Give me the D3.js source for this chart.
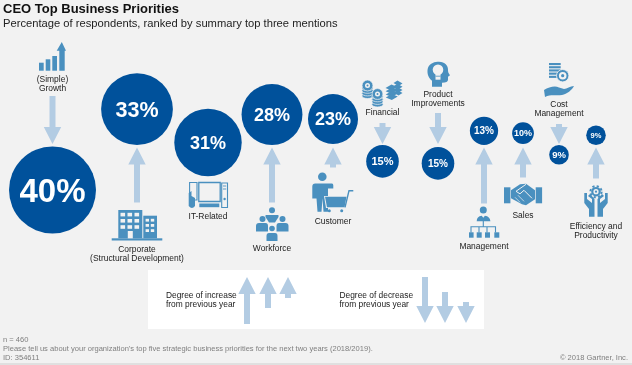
<!DOCTYPE html>
<html>
<head>
<meta charset="utf-8">
<script src="https://cdn.jsdelivr.net/npm/d3@7"></script>
<style>
html,body{margin:0;padding:0;background:#f2f2f2;overflow:hidden}
svg{display:block;font-family:"Liberation Sans",Arial,sans-serif;filter:blur(0.3px)}
</style>
</head>
<body>
<div id="chart"></div>
<script>
// ---- data ----
const categories = ["Growth","Corporate","IT-Related","Workforce","Customer","Financial","Product Improvements","Management","Sales","Cost Management","Efficiency and Productivity"];
const valueLabels = [40,33,31,28,23,15,15,13,10,9,9];
// signed change from previous year (relative arrow length, 0 = no arrow)
const changes = [-48,55,0,55,20,-21,-31,56,30,-20,31];
const labelLines = [["(Simple)","Growth"],["Corporate","(Structural Development)"],["IT-Related"],["Workforce"],["Customer"],["Financial"],["Product","Improvements"],["Management"],["Sales"],["Cost","Management"],["Efficiency and","Productivity"]];
const legendIncrease = [47,31,21];
const legendDecrease = [46,31,21];

// ---- layout ----
const W = 632, H = 365;
const xRange = [52.5,137,208,272,333,382.5,438,484,523,559,596];
const circleNudge = [0,1,0,1,0,-1.5,0.5,1,0,-1.5,1];
const valueFont = [33,21.5,18,18,18,11,10,10,9,9.5,7.5];
const labelY = [82,252,219,251,224,114.5,97,249,217.5,107,228.5];
const baseline = 145;
const BLUE = "#00519b", ARROW = "#b3cce3", ICON = "#4a90bf", BG = "#f2f2f2", GREY = "#7f7f7f";

const x = d3.scaleOrdinal().domain(categories).range(xRange);
const r = d3.scaleLinear().domain([0,40]).range([0,43.5]);
const len = d3.scaleLinear().domain([0,60]).range([0,60]);

const svg = d3.select("#chart").append("svg").attr("width",W).attr("height",H);
svg.append("rect").attr("width",W).attr("height",H).attr("fill",BG);
svg.append("rect").attr("y",363).attr("width",W).attr("height",2).attr("fill","#e0e0e0");

svg.append("text").attr("x",3).attr("y",12.5).attr("font-size",13).attr("font-weight","bold").attr("fill","#111").text("CEO Top Business Priorities");
svg.append("text").attr("x",3).attr("y",27).attr("font-size",11.2).attr("fill","#222").text("Percentage of respondents, ranked by summary top three mentions");

// arrow: tip at (cx,tipY), running dir (+1 tail below the tip, -1 tail above)
function arrowD(cx,tipY,length,dir){
  const hw=8.7, sw=3, hh=Math.min(17,length-3);
  const p=d3.path();
  p.moveTo(cx,tipY);
  p.lineTo(cx+hw,tipY+dir*hh);
  p.lineTo(cx+sw,tipY+dir*hh);
  p.lineTo(cx+sw,tipY+dir*length);
  p.lineTo(cx-sw,tipY+dir*length);
  p.lineTo(cx-sw,tipY+dir*hh);
  p.lineTo(cx-hw,tipY+dir*hh);
  p.closePath();
  return p.toString();
}

const rows = categories.map((c,i)=>({c,i,v:valueLabels[i],ch:changes[i],lines:labelLines[i]}));

svg.append("g").selectAll("path").data(rows.filter(d=>d.ch!==0)).join("path")
  .attr("fill",ARROW)
  .attr("d",d=> d.ch>0 ? arrowD(x(d.c),baseline+2.5,len(d.ch),1) : arrowD(x(d.c),baseline-1,len(-d.ch),-1));

const cy = d => (d.ch>0 ? baseline-1-r(d.v) : d.ch<0 ? baseline+1.5+r(d.v) : baseline-2.5) + circleNudge[d.i];
svg.append("g").selectAll("circle").data(rows).join("circle")
  .attr("cx",d=>x(d.c)).attr("cy",cy).attr("r",d=>r(d.v)).attr("fill",BLUE);
svg.append("g").selectAll("text").data(rows).join("text")
  .attr("x",d=>x(d.c)).attr("y",d=>cy(d)+valueFont[d.i]*0.36)
  .attr("text-anchor","middle").attr("font-weight","bold").attr("fill","#fff")
  .attr("font-size",d=>valueFont[d.i]).text(d=>d.v+"%");

const lab = svg.append("g").attr("font-size",8.45).attr("fill","#222").attr("text-anchor","middle");
rows.forEach(d=>d.lines.forEach((t,k)=>{
  lab.append("text").attr("x",x(d.c)).attr("y",labelY[d.i]+k*9.2).text(t);
}));

// ---- legend ----
svg.append("rect").attr("x",148).attr("y",270).attr("width",336).attr("height",59).attr("fill","#fff");
const legendIncX=[247,268,288], legendDecX=[425,445,466];
svg.append("g").selectAll("path").data(legendIncrease).join("path").attr("fill",ARROW)
  .attr("d",(d,i)=>arrowD(legendIncX[i],277,len(d),1));
svg.append("g").selectAll("path").data(legendDecrease).join("path").attr("fill",ARROW)
  .attr("d",(d,i)=>arrowD(legendDecX[i],323,len(d),-1));
const lt = svg.append("g").attr("font-size",8.4).attr("fill","#222");
[["Degree of increase","from previous year",166],["Degree of decrease","from previous year",339.5]].forEach(a=>{
  lt.append("text").attr("x",a[2]).attr("y",298).text(a[0]);
  lt.append("text").attr("x",a[2]).attr("y",307.3).text(a[1]);
});

// ---- footnotes ----
const fn = svg.append("g").attr("font-size",7.55).attr("fill",GREY);
fn.append("text").attr("x",3).attr("y",341.5).text("n = 460");
fn.append("text").attr("x",3).attr("y",350.5).text("Please tell us about your organization's top five strategic business priorities for the next two years (2018/2019).");
fn.append("text").attr("x",3).attr("y",359.5).text("ID: 354611");
fn.append("text").attr("x",628).attr("y",359.5).attr("text-anchor","end").text("© 2018 Gartner, Inc.");

// ---- icons ----
function icon(cat,top){ return svg.append("g").attr("transform",`translate(${x(cat)},${top})`); }
const R=(g,a,b,w,h,f=ICON)=>g.append("rect").attr("x",a).attr("y",b).attr("width",w).attr("height",h).attr("fill",f);
const C=(g,a,b,rad,f=ICON)=>g.append("circle").attr("cx",a).attr("cy",b).attr("r",rad).attr("fill",f);
const P=(g,d,f=ICON)=>g.append("path").attr("d",d).attr("fill",f);
const L=(g,d,w=1,c=ICON)=>g.append("path").attr("d",d).attr("fill","none").attr("stroke",c).attr("stroke-width",w);

// growth
{ const g=icon("Growth",42);
  R(g,-13.5,20.7,4.7,8); R(g,-6.8,17.3,4.6,11.4); R(g,-0.2,14,4.7,14.7);
  P(g,"M9.3,0 L13.5,8.7 L12.2,8.7 L12.2,28.7 L6.8,28.7 L6.8,8.7 L4.2,8.7 Z"); }
// corporate
{ const g=icon("Corporate",210);
  R(g,-18.7,0,24,28.3); R(g,6.3,5.7,13.7,22.6);
  R(g,-25.3,28.3,50.6,2.2);
  for(let a=0;a<3;a++)for(let b=0;b<3;b++) R(g,-16.5+a*7,2.8+b*6.2,4.6,3.6,BG);
  for(let a=0;a<2;a++)for(let b=0;b<3;b++) R(g,8.6+a*5.2,8.8+b*5.2,3.4,2.8,BG);
  R(g,-9.2,21,5,7.3,BG); }
// IT
{ const g=icon("IT-Related",181);
  L(g,"M-9.2,1.5 h21.4 v19 h-21.4 Z",1.3);
  R(g,-8.7,22.5,20,3.7);
  L(g,"M-18.4,1.5 h7.4 v17.5 h-7.4 Z",1.1);
  P(g,"M-19.3,12 L-16.5,10 L-16.5,15 L-13,17 L-13,25 Q-16,29 -19.3,25 Z");
  L(g,"M13.7,2 h5.8 v24.5 h-5.8 Z",1.1);
  L(g,"M15,5 h3.2 M15,8 h3.2",.9); C(g,16.6,18,1.2); }
// workforce
{ const g=icon("Workforce",207);
  C(g,0,3.3,3); P(g,"M-6,8 h12 q1,0 0.5,2 L3,15.5 h-6 L-6.5,10 q-0.5,-2 0.5,-2 Z");
  C(g,-9.5,12,3); P(g,"M-16,19 q0,-3 3,-3 h6.5 q2.5,0 2.5,3 v5.5 h-12 Z");
  C(g,10.5,12,3); P(g,"M4.5,19 q0,-3 2.5,-3 h6.5 q3,0 3,3 v5.5 h-12 Z");
  C(g,0,21.5,2.8); P(g,"M-5.5,29 q0,-3 2.5,-3 h6 q2.5,0 2.5,3 v5 h-11 Z"); }
// customer
{ const g=icon("Customer",172.4);
  C(g,-10.7,4.3,4.3);
  P(g,"M-20.7,14 Q-20.7,11 -17.7,11 L-1,11 Q0.3,11 0.3,13 L0.3,16 L-5,16 L-5,39.3 L-9.5,39.3 L-10.5,26 L-11.5,39.3 L-15.5,39.3 L-16.5,26 L-20.7,26 Z");
  P(g,"M-9,23.5 L13.8,23.5 L11.8,35.5 L-7,35.5 Z",BG);
  P(g,"M-8,24.3 L13.5,24.3 L11.5,34.9 L-6,34.9 Z");
  L(g,"M20.3,18.3 L16,18.3 L12,35",1.4);
  C(g,-3.7,38.3,1.5); C(g,8.7,38.3,1.5); }
// financial
{ const g=icon("Financial",80);
  const coins=(cx,top,n)=>{
    for(let k=n;k>=1;k--) g.append("ellipse").attr("cx",cx).attr("cy",top+4+k*2.6).attr("rx",5.6).attr("ry",2.6).attr("fill",ICON).attr("stroke",BG).attr("stroke-width",.7);
    C(g,cx,top+4,5.4).attr("stroke",BG).attr("stroke-width",.6);
    C(g,cx,top+4,2.5,BG); C(g,cx,top+4,1,ICON);
  };
  coins(-15,1.5,4); coins(-5,10,4);
  [0,1,2,3].forEach(k=>{
    P(g,`M${3+k*0.1},${8+k*3.2} l6,-3.5 l6,2.5 l-6,3.5 Z`);
    P(g,`M${11},${3+k*3.2} l4,-2.5 l5,3 l-4,2.5 Z`);
  }); }
// product head
{ const g=icon("Product Improvements",61.7);
  P(g,"M-6,25 L-6,19 C-11,15 -11,9 -10,6 C-8,1 -3,0 1,0 C7,0 10,4 10,8 C10,10 10,11 12,13.5 L10,15 L10,18 C10,20 8,21 4,21 L4,25 Z");
  C(g,0,8,5.3,BG); R(g,-2.5,12,5,6,BG); L(g,"M-2.5,14.5 h5",.8); }
// management
{ const g=icon("Management",206.5);
  C(g,-0.7,3.5,3.5); P(g,"M-7.3,14.7 q0,-5 5,-5.5 l1.6,2 l1.6,-2 q5,0.5 5.5,5.5 Z");
  L(g,"M-0.7,14 V20 M-13,26 V20.2 H11.5 V26 M-5,20.2 V26 M3,20.2 V26",1.1);
  [-15,-7.3,1,10.3].forEach(a=>R(g,a,25.8,a<-14?4.6:5,5.4)); }
// sales
{ const g=icon("Sales",183.3);
  R(g,-19,4,6.4,16); R(g,12.7,4,6.4,16);
  P(g,"M-12,7 L-3,1 L3,0.5 L12,7 L12,16 L3,22 L-1,21 L-12,15 Z");
  L(g,"M3,1 L-7,8 L-3,10.5 L1,7 L9,15",1,BG);
  L(g,"M-8,14 L-3,19 M-5,12 L1,18",.7,BG); }
// cost
{ const g=icon("Cost Management",63);
  [0,3.2,6.4,9.6,12.8].forEach(b=>R(g,-10,b,b>7?9:11.7,2.1));
  C(g,3.7,12.7,6.2).attr("stroke",BG).attr("stroke-width",.8);
  C(g,3.7,12.7,3.8,BG); C(g,3.7,12.7,1.6,ICON);
  P(g,"M-15,27 C-10,24 -4,22.5 0,24.5 L5,26 C8,26 11,23 15,23 C13,27 8,31 3,32 C-3,33 -8,31 -14,34 Z"); }
// efficiency
{ const g=icon("Efficiency and Productivity",185);
  C(g,0,6.7,4.8);
  g.append("circle").attr("cx",0).attr("cy",6.7).attr("r",5.6).attr("fill","none").attr("stroke",ICON).attr("stroke-width",2).attr("stroke-dasharray","2.2 2.2");
  C(g,0,6.7,2.6,BG); C(g,0,6.7,1.1,ICON);
  [1,-1].forEach(s=>{
    const h=g.append("g").attr("transform",`scale(${s},1)`);
    P(h,"M-11.7,8 L-9,8 L-9,14 L-4,18 L-4,14 L-8,11 L-6,9 L-1.5,14 L-1.5,31.7 L-7,31.7 L-7,24 L-11.7,18 Z");
  }); }
</script>
</body>
</html>
